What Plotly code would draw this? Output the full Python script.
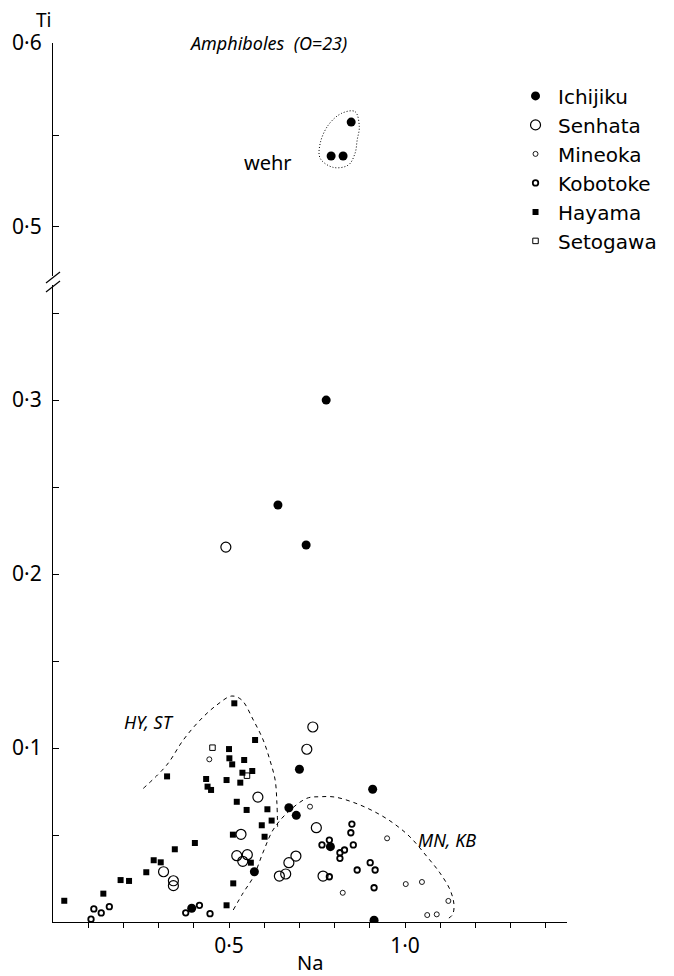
import plotly.graph_objects as go

# ---------------- data (Na, Ti) ----------------
ichijiku_na = [0.394, 0.572, 0.788, 0.912, 0.700, 0.908, 0.670, 0.691, 0.776, 0.639, 0.719]
ichijiku_ti = [0.0079, 0.0289, 0.0433, 0.0010, 0.0878, 0.0763, 0.0657, 0.0613, 0.300, 0.2397, 0.2167]
# wehrlite Ichijiku points (upper, broken part of the axis)
wehr_na = [0.847, 0.790, 0.824]
wehr_ti = [0.557, 0.5386, 0.5386]

senhata_na = [0.314, 0.342, 0.342, 0.534, 0.522, 0.539, 0.552, 0.643, 0.661, 0.670, 0.690,
              0.748, 0.767, 0.738, 0.721, 0.582, 0.491]
senhata_ti = [0.0289, 0.0237, 0.0209, 0.0504, 0.0381, 0.0349, 0.0387, 0.0264, 0.0276, 0.0341, 0.0379,
              0.0542, 0.0264, 0.1121, 0.0993, 0.0718, 0.2155]

mineoka_na = [0.949, 0.823, 1.002, 1.048, 1.123, 1.063, 1.090, 0.444, 0.730]
mineoka_ti = [0.0481, 0.0168, 0.0218, 0.0230, 0.0121, 0.0040, 0.0044, 0.0935, 0.0663]

kobotoke_na = [0.108, 0.116, 0.137, 0.160, 0.377, 0.416, 0.446, 0.849, 0.846, 0.785, 0.764,
               0.853, 0.828, 0.815, 0.815, 0.901, 0.864, 0.915, 0.785, 0.912]
kobotoke_ti = [0.0016, 0.0075, 0.0052, 0.0088, 0.0053, 0.0096, 0.0048, 0.0563, 0.0513, 0.0471, 0.0443,
               0.0443, 0.0414, 0.0398, 0.0366, 0.0341, 0.0299, 0.0299, 0.0260, 0.0197]

hayama_na = [0.032, 0.143, 0.192, 0.216, 0.265, 0.286, 0.306, 0.346, 0.403, 0.493, 0.512, 0.511,
             0.562, 0.593, 0.601, 0.621, 0.515, 0.574, 0.500, 0.501, 0.543, 0.509, 0.538, 0.566,
             0.435, 0.493, 0.532, 0.439, 0.449, 0.324, 0.522, 0.550, 0.609]
hayama_ti = [0.0122, 0.0163, 0.0241, 0.0236, 0.0286, 0.0355, 0.0343, 0.0418, 0.0454, 0.0096, 0.0222, 0.0502,
             0.0341, 0.0556, 0.0490, 0.0583, 0.1257, 0.1046, 0.0994, 0.0941, 0.0931, 0.0906, 0.0858, 0.0868,
             0.0822, 0.0816, 0.0801, 0.0778, 0.0759, 0.0837, 0.0691, 0.0644, 0.0648]

setogawa_na = [0.453, 0.551]
setogawa_ti = [0.1002, 0.0841]

# field outlines
hyst_na = [0.2565, 0.323, 0.370, 0.418, 0.465, 0.508, 0.536, 0.569, 0.597, 0.616, 0.631, 0.636, 0.638]
hyst_ti = [0.0768, 0.0902, 0.1046, 0.1161, 0.1247, 0.1299, 0.1276, 0.1161, 0.1046, 0.0931, 0.0816, 0.0682, 0.0548]

mnkb_na = [0.512, 0.540, 0.569, 0.597, 0.625, 0.664, 0.721, 0.759, 0.801, 0.858, 0.915, 0.966,
           1.014, 1.063, 1.099, 1.128, 1.139, 1.134, 1.114]
mnkb_ti = [0.0069, 0.0167, 0.0259, 0.0402, 0.0529, 0.0625, 0.0711, 0.0720, 0.0718, 0.0684, 0.0632, 0.0569,
           0.0489, 0.0374, 0.0282, 0.0184, 0.0098, 0.0040, 0.0011]

wehrline_na = [0.820, 0.858, 0.870, 0.864, 0.858, 0.839, 0.796, 0.759, 0.759, 0.782, 0.820]
wehrline_ti = [0.5618, 0.5627, 0.5545, 0.5473, 0.5401, 0.5337, 0.5324, 0.5373, 0.5455, 0.5554, 0.5618]

low_ticks = [0.05, 0.10, 0.15, 0.20, 0.25, 0.30, 0.35]
low_text = ["", "0·1", "", "0·2", "", "0·3", ""]
up_ticks = [0.50, 0.55, 0.60]
up_text = ["0·5", "", "0·6"]
x_ticks = [0.1, 0.2, 0.3, 0.4, 0.5, 0.6, 0.7, 0.8, 0.9, 1.0, 1.1, 1.2, 1.3, 1.4]
x_text = ["", "", "", "", "0·5", "", "", "", "", "1·0", "", "", "", ""]

FONT = "Noto Sans"
FONT2 = "DejaVu Sans"
fig = go.Figure()

# outlines
fig.add_trace(go.Scatter(x=hyst_na, y=hyst_ti, mode="lines", line=dict(color="black", width=1, dash="4px,4px", shape="spline"),
                         showlegend=False, hoverinfo="skip", yaxis="y"))
fig.add_trace(go.Scatter(x=mnkb_na, y=mnkb_ti, mode="lines", line=dict(color="black", width=1, dash="4px,4px", shape="spline"),
                         showlegend=False, hoverinfo="skip", yaxis="y"))
fig.add_trace(go.Scatter(x=wehrline_na, y=wehrline_ti, mode="lines", line=dict(color="black", width=1, dash="1px,2px", shape="spline"),
                         showlegend=False, hoverinfo="skip", yaxis="y2"))

# points
fig.add_trace(go.Scatter(x=ichijiku_na, y=ichijiku_ti, mode="markers", name="Ichijiku", legendgroup="a",
                         marker=dict(symbol="circle", size=9, color="black"), yaxis="y"))
fig.add_trace(go.Scatter(x=wehr_na, y=wehr_ti, mode="markers", name="Ichijiku", legendgroup="a", showlegend=False,
                         marker=dict(symbol="circle", size=9, color="black"), yaxis="y2"))
fig.add_trace(go.Scatter(x=senhata_na, y=senhata_ti, mode="markers", name="Senhata",
                         marker=dict(symbol="circle-open", size=10, color="black", line=dict(width=1.2)), yaxis="y"))
fig.add_trace(go.Scatter(x=mineoka_na, y=mineoka_ti, mode="markers", name="Mineoka",
                         marker=dict(symbol="circle-open", size=5, color="black", line=dict(width=0.9)), yaxis="y"))
fig.add_trace(go.Scatter(x=kobotoke_na, y=kobotoke_ti, mode="markers", name="Kobotoke",
                         marker=dict(symbol="circle-open", size=5.5, color="black", line=dict(width=1.8)), yaxis="y"))
fig.add_trace(go.Scatter(x=hayama_na, y=hayama_ti, mode="markers", name="Hayama",
                         marker=dict(symbol="square", size=6, color="black"), yaxis="y"))
fig.add_trace(go.Scatter(x=setogawa_na, y=setogawa_ti, mode="markers", name="Setogawa",
                         marker=dict(symbol="square-open", size=5.5, color="black", line=dict(width=1)), yaxis="y"))

axis_common = dict(showline=True, linecolor="black", linewidth=1.2, showgrid=False, zeroline=False,
                   tickfont=dict(family=FONT, size=21, color="black"), tickcolor="black")

fig.update_layout(
    width=674, height=976,
    margin=dict(l=53, r=107, t=43, b=54),
    paper_bgcolor="white", plot_bgcolor="white",
    font=dict(family=FONT, color="black"),
    xaxis=dict(range=[0, 1.46], tickmode="array", tickvals=x_ticks, ticktext=x_text,
               ticks="outside", ticklen=5, tickwidth=1, **axis_common),
    yaxis=dict(domain=[0, 0.725], range=[0, 0.3663], tickmode="array", tickvals=low_ticks, ticktext=low_text,
               ticks="inside", ticklen=6, tickwidth=1, ticklabelstandoff=6, **axis_common),
    yaxis2=dict(domain=[0.735, 1.0], range=[0.4734, 0.6], tickmode="array", tickvals=up_ticks, ticktext=up_text,
                ticks="inside", ticklen=6, tickwidth=1, ticklabelstandoff=6, anchor="x", **axis_common),
    legend=dict(x=0.895, y=0.962, xanchor="left", yanchor="top", bgcolor="rgba(0,0,0,0)",
                font=dict(family=FONT2, size=20, color="black"), itemsizing="trace", traceorder="normal",
                itemwidth=35),
    showlegend=True,
)

# axis break slashes
for dy in (0, 9):
    fig.add_shape(type="line", xref="paper", yref="paper",
                  x0=(46 - 53) / 514, x1=(60 - 53) / 514,
                  y0=(922 - (283 + dy)) / 879, y1=(922 - (272 + dy)) / 879,
                  line=dict(color="black", width=1.2))

# texts
def note(x, y, text, size, xref="paper", yref="paper"):
    fig.add_annotation(x=x, y=y, xref=xref, yref=yref, showarrow=False, xanchor="center", yanchor="middle",
                       text=text, font=dict(family=FONT, size=size, color="black"))

note(0.418, (922 - 43) / 879, "<i>Amphiboles  (O=23)</i>", 18)
note((43 - 53) / 514, (922 - 20) / 879, "Ti", 19)
note(0.5, -(962 - 922) / 879, "Na", 20)
note(0.611, 0.535, "wehr", 20, "x", "y2")
note(0.273, 0.115, "<i>HY, ST</i>", 18, "x", "y")
note(1.119, 0.047, "<i>MN, KB</i>", 18, "x", "y")

fig.write_html("out.html")
